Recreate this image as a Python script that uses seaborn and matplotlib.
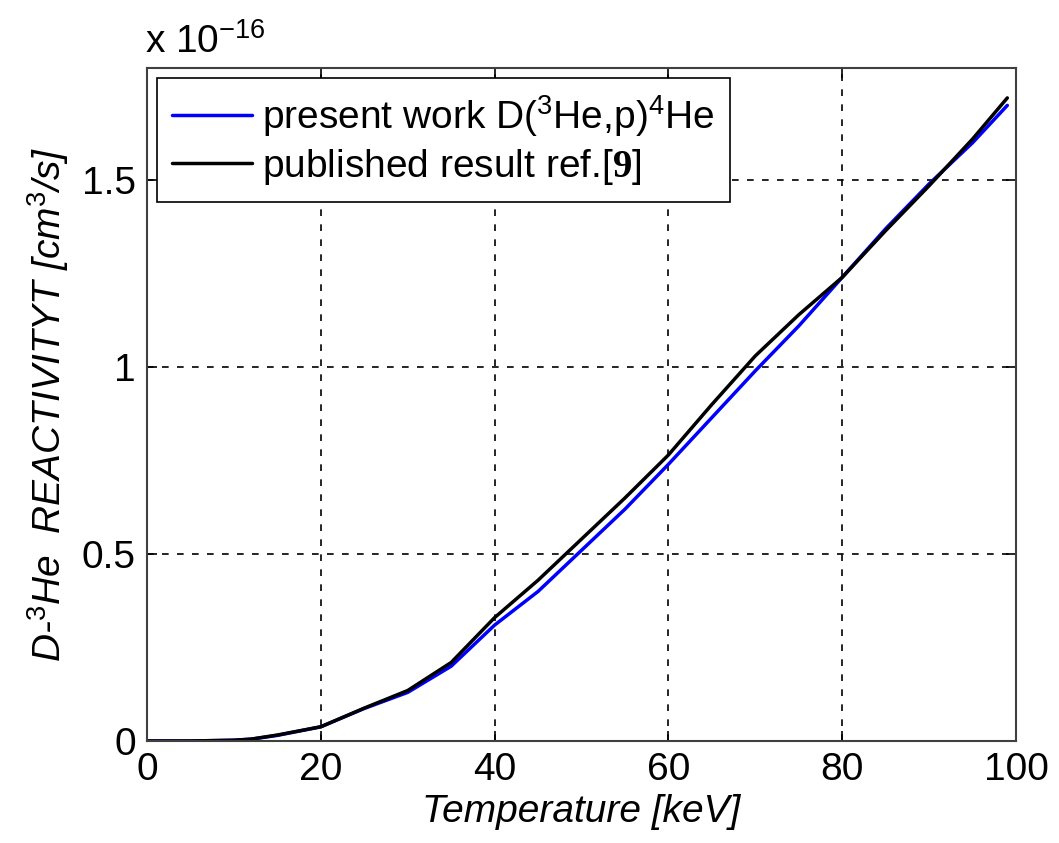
import numpy as np
import pandas as pd
import matplotlib
matplotlib.use("Agg")
import matplotlib.pyplot as plt
import seaborn as sns

# Data (reactivity in units of 1e-16 cm^3/s)
temperature = [0, 5, 10, 12, 15, 20, 25, 30, 35, 40, 45, 50, 55, 60, 65, 70, 75, 80, 85, 90, 95, 99]
present_work = [0.0, 0.0, 0.002, 0.005, 0.015, 0.038, 0.087, 0.13, 0.20, 0.31, 0.40, 0.51, 0.62, 0.74, 0.865, 0.99, 1.11, 1.24, 1.37, 1.49, 1.60, 1.70]
published = [0.0, 0.0, 0.002, 0.005, 0.016, 0.038, 0.088, 0.135, 0.21, 0.33, 0.43, 0.54, 0.65, 0.765, 0.90, 1.03, 1.14, 1.24, 1.365, 1.485, 1.61, 1.72]

xticks = [0, 20, 40, 60, 80, 100]
yticks = [0, 0.5, 1, 1.5]
ytick_labels = ["0", "0.5", "1", "1.5"]

label_present = r"present work D($^{3}$He,p)$^{4}$He"
label_published = r"published result ref.[$\mathbf{9}$]"

sns.set_style("white")
plt.rcParams["font.family"] = ["Liberation Sans", "DejaVu Sans"]
plt.rcParams["mathtext.fontset"] = "custom"
plt.rcParams["mathtext.rm"] = "Liberation Sans"
plt.rcParams["mathtext.it"] = "Liberation Sans:italic"
plt.rcParams["mathtext.bf"] = "Liberation Serif:bold"
plt.rcParams["text.color"] = "black"
plt.rcParams["axes.labelcolor"] = "black"
plt.rcParams["xtick.color"] = "black"
plt.rcParams["ytick.color"] = "black"

FS = 28

fig = plt.figure(figsize=(10.59, 8.43), dpi=100)
ax = fig.add_axes([147/1059, 1 - 741/843, (1016-147)/1059, (741-68)/843])

df_p = pd.DataFrame({"T": temperature, "R": present_work})
df_b = pd.DataFrame({"T": temperature, "R": published})
sns.lineplot(data=df_p, x="T", y="R", ax=ax, color=(0, 0, 1), lw=2.5, label=label_present)
sns.lineplot(data=df_b, x="T", y="R", ax=ax, color="black", lw=2.5, label=label_published)

ax.set_xlim(0, 100)
ax.set_ylim(0, 1.8)
ax.set_xticks(xticks)
ax.set_xticklabels([str(t) for t in xticks])
ax.set_yticks(yticks)
ax.set_yticklabels(ytick_labels)
ax.tick_params(axis="both", which="major", direction="in", length=7, width=1.2, labelsize=FS,
               bottom=True, left=True, top=True, right=True, pad=8, color="black",
               labelcolor="black")
ax.grid(True, color="black", linestyle=(0, (4, 5)), linewidth=1.2)
for s in ax.spines.values():
    s.set_visible(True)
    s.set_color("#404040")
    s.set_linewidth(1.5)

ax.set_xlabel("Temperature [keV]", fontsize=FS, style="italic", labelpad=4)
ax.set_ylabel(r"D-$^{3}$He  REACTIVITYT [cm$^{3}$/s]", fontsize=FS, style="italic", labelpad=8)

fig.text(145/1059, 1 - 53/843, r"x 10$^{-16}$", fontsize=FS, ha="left", va="baseline")

leg = ax.legend(loc="upper left", fontsize=FS, frameon=True, fancybox=False,
                edgecolor="black", facecolor="white", framealpha=1.0,
                borderaxespad=0.25, handlelength=2.05,
                handletextpad=0.25, labelspacing=0.2, borderpad=0.4)
leg.get_frame().set_linewidth(1.2)

fig.savefig("out.png", dpi=100, facecolor="white")
